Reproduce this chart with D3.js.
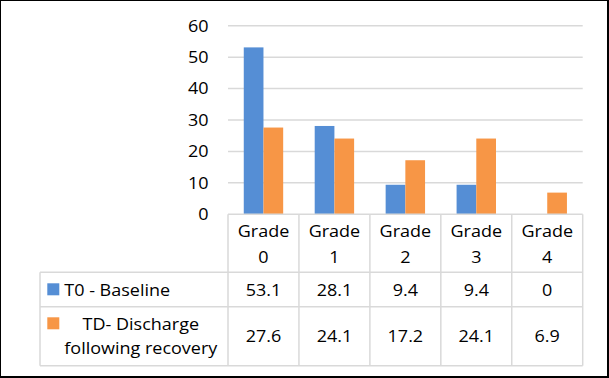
<!DOCTYPE html>
<html>
<head>
<meta charset="utf-8">
<script src="https://cdn.jsdelivr.net/npm/d3@7"></script>
<style>
  html, body { margin: 0; padding: 0; background: #fff; }
  svg { display: block; }
</style>
</head>
<body>
<svg id="chart"></svg>
<script>
// --- data ---
const categories = ["Grade 0", "Grade 1", "Grade 2", "Grade 3", "Grade 4"];
const seriesNames = ["T0 - Baseline", "TD- Discharge following recovery"];
const seriesLines = [["T0 - Baseline"], ["TD- Discharge", "following recovery"]];
const baselineValues  = [53.1, 28.1, 9.4, 9.4, 0];
const dischargeValues = [27.6, 24.1, 17.2, 24.1, 6.9];
const yTicks = [0, 10, 20, 30, 40, 50, 60];
const seriesColors = ["#558ED5", "#F79646"];

const series = seriesNames.map((name, i) => ({
    name: name,
    lines: seriesLines[i],
    color: seriesColors[i],
    values: i === 0 ? baselineValues : dischargeValues
}));

// --- layout ---
const W = 609, H = 378;
const plot = { left: 228, right: 582.7, top: 25.7, bottom: 214.3 };
const tableLeft = 40;
const rowTops = [214.3, 272.3, 306.7, 365.7];
const fontFamily = "'Open Sans', Lato, sans-serif";
const fontSize = 16;
const gridColor = "#D9D9D9";
const textColor = "#000";

const svg = d3.select("#chart").attr("width", W).attr("height", H);

// text stretch: reference glyphs are wider than they are tall
const fitTargets = [["Grade", 50], ["T0 - Baseline", 106], ["following recovery", 157.4]];
const sx = d3.mean(fitTargets, ([s, w]) => {
    const probe = svg.append("text").style("font-family", fontFamily)
        .style("font-size", fontSize + "px").text(s);
    const r = w / probe.node().getComputedTextLength();
    probe.remove();
    return r;
});

function label(g, x, y, str, anchor) {
    return g.append("text")
        .attr("transform", `translate(${x},${y}) scale(${sx},1)`)
        .attr("text-anchor", anchor || "middle")
        .style("font-family", fontFamily)
        .style("font-size", fontSize + "px")
        .style("fill", textColor)
        .text(str);
}

const x = d3.scaleBand().domain(categories).range([plot.left, plot.right]).padding(0);
const xs = d3.scaleBand().domain(series.map(d => d.name))
    .range([0, x.bandwidth()]).paddingInner(0).paddingOuter(0.8);
const y = d3.scaleLinear().domain([0, 60]).range([plot.bottom, plot.top]);

// gridlines
svg.append("g").selectAll("line").data(yTicks.filter(t => t > 0)).enter()
    .append("line")
    .attr("x1", plot.left).attr("x2", plot.right)
    .attr("y1", d => y(d)).attr("y2", d => y(d))
    .attr("stroke", gridColor).attr("stroke-width", 1.5);

// y tick labels
const yl = svg.append("g");
yTicks.forEach(t => label(yl, 208.5, y(t) + 5.8, String(t), "end"));

// bars
const bars = svg.append("g");
series.forEach(s => {
    bars.selectAll(null).data(s.values).enter()
        .append("rect")
        .attr("x", (d, i) => x(categories[i]) + xs(s.name))
        .attr("width", xs.bandwidth())
        .attr("y", d => y(d))
        .attr("height", d => y(0) - y(d))
        .attr("fill", s.color);
});

// data table grid
const tg = svg.append("g").attr("stroke", gridColor).attr("stroke-width", 1.5);
tg.append("line").attr("x1", plot.left).attr("x2", plot.right)
    .attr("y1", rowTops[0]).attr("y2", rowTops[0]);
rowTops.slice(1).forEach(r => {
    tg.append("line").attr("x1", tableLeft).attr("x2", plot.right)
        .attr("y1", r).attr("y2", r);
});
tg.append("line").attr("x1", tableLeft).attr("x2", tableLeft)
    .attr("y1", rowTops[1]).attr("y2", rowTops[3]);
categories.forEach(c => {
    tg.append("line").attr("x1", x(c)).attr("x2", x(c))
        .attr("y1", rowTops[0]).attr("y2", rowTops[3]);
});
tg.append("line").attr("x1", plot.right).attr("x2", plot.right)
    .attr("y1", rowTops[0]).attr("y2", rowTops[3]);

// header (category) text
const th = svg.append("g");
categories.forEach(c => {
    const cx = x(c) + x.bandwidth() / 2;
    const parts = c.split(" ");
    label(th, cx, 236.5, parts[0]);
    label(th, cx, 263, parts[1]);
});

// rows
const rowCenters = [289.5, 336.2];
const textLeft = 64.3;
series.forEach((s, i) => {
    const rg = svg.append("g");
    rg.append("rect")
        .attr("x", 47.3).attr("y", i === 0 ? 283.3 : 317.3)
        .attr("width", 12).attr("height", 12)
        .attr("fill", s.color);

    // lines centred on the widest line, block starting at textLeft
    const widths = s.lines.map(l => {
        const t = label(rg, 0, 0, l, "start");
        const w = t.node().getComputedTextLength() * sx;
        t.remove();
        return w;
    });
    const blockW = d3.max(widths);
    const lineH = 23.5;
    const firstBase = rowCenters[i] + 6 - (s.lines.length - 1) * lineH / 2;
    s.lines.forEach((l, j) => {
        label(rg, textLeft + blockW / 2, firstBase + j * lineH, l);
    });

    s.values.forEach((v, k) => {
        label(rg, x(categories[k]) + x.bandwidth() / 2, rowCenters[i] + 6, String(v));
    });
});

// outer border
svg.append("rect").attr("x", 0).attr("y", 0).attr("width", 608).attr("height", 377)
    .attr("fill", "none").attr("stroke", "#000").attr("stroke-width", 2);
</script>
</body>
</html>
